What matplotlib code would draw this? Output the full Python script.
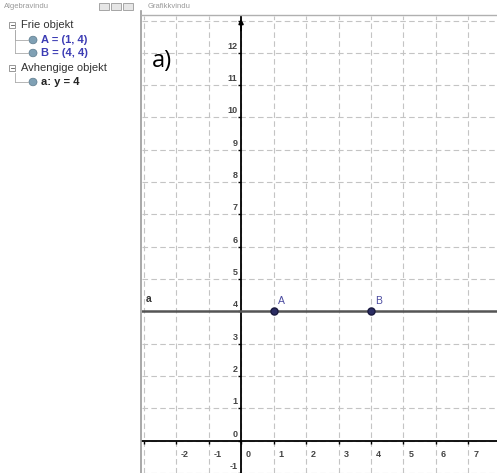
import numpy as np
import matplotlib
matplotlib.use('Agg')
import matplotlib.pyplot as plt
from matplotlib.lines import Line2D
from matplotlib.patches import Circle, Rectangle

W, H = 497, 473

# objects in the GeoGebra view
point_names = ['A', 'B']
point_x = [1, 4]
point_y = [4, 4]
line_name = 'a'
line_y = 4

x_ticks = [-2, -1, 0, 1, 2, 3, 4, 5, 6, 7]
y_ticks = [-1, 0, 1, 2, 3, 4, 5, 6, 7, 8, 9, 10, 11, 12]

# algebra view rows
free_header = 'Frie objekt'
free_items = ['A = (1, 4)', 'B = (4, 4)']
dep_header = 'Avhengige objekt'
dep_items = ['a: y = 4']

plt.rcParams['font.family'] = ['Liberation Sans', 'DejaVu Sans']

fig = plt.figure(figsize=(W / 100, H / 100), dpi=100)
fig.patch.set_facecolor('white')


def px(x, y):
    return x / W, 1 - y / H


# ---- graphics view ----
ax = fig.add_axes([142 / W, 0, (W - 142) / W, (H - 16) / H])
ax.set_xlim(-3.05, 7.88)
ax.set_ylim(-0.93, 13.14)
ax.set_facecolor('white')

for s in ['top', 'right']:
    ax.spines[s].set_visible(False)
ax.spines['left'].set_position(('data', 0))
ax.spines['bottom'].set_position(('data', 0))
ax.spines['left'].set_linewidth(1.3)
ax.spines['bottom'].set_linewidth(1.3)

ax.set_xticks(range(-3, 8))
ax.set_yticks(range(-1, 14))
ax.tick_params(direction='out', length=2.5, width=1, labelbottom=False, labelleft=False)
ax.grid(True, linestyle=(0, (5, 3)), color='#c4c4c4', lw=0.8)
ax.set_axisbelow(True)

ax.annotate('', xy=(0, 13.14), xytext=(0, 12.6),
            arrowprops=dict(arrowstyle='-|>', lw=1.2, color='k', mutation_scale=7))

for t in x_ticks:
    ax.annotate(str(t), xy=(t, 0), xytext=(3.5, -6.5), textcoords='offset points',
                fontsize=6.5, fontweight='bold', color='#444444', ha='left', va='top')
for t in y_ticks:
    ax.annotate(str(t), xy=(0, t), xytext=(-2.5, 1.5), textcoords='offset points',
                fontsize=6.5, fontweight='bold', color='#444444', ha='right', va='bottom')

ax.axhline(line_y, color='#555555', lw=1.8, zorder=3)
ax.annotate(line_name, xy=(-3.05, line_y), xytext=(3, 5), textcoords='offset points',
            fontsize=7.5, fontweight='bold', color='#333333', ha='left', va='bottom')

ax.scatter(point_x, point_y, s=26, color='#2b2d63', edgecolors='#1a1a40', zorder=5)
for n, x, y in zip(point_names, point_x, point_y):
    ax.annotate(n, xy=(x, y), xytext=(3, 4), textcoords='offset points',
                fontsize=7.5, color='#4b4ba0', ha='left', va='bottom')

ax.text(-2.75, 11.75, 'a)', fontsize=17, color='black', ha='left', va='center',
        family=['Open Sans', 'DejaVu Sans'])

# ---- frame / headers ----
fig.add_artist(Line2D([141 / W, 141 / W], [0, 1 - 11 / H], color='#9a9a9a', lw=1.2))
fig.add_artist(Line2D([141 / W, 1], [1 - 15 / H, 1 - 15 / H], color='#b0b0b0', lw=1))
fig.text(*px(148, 6), 'Grafikkvindu', fontsize=5.5, color='#999999', va='center', ha='left')
fig.text(*px(4, 6), 'Algebravindu', fontsize=5.5, color='#999999', va='center', ha='left')
for bx in [99, 111, 123]:
    fig.add_artist(Rectangle(px(bx, 10), 10 / W, 7 / H, facecolor='#e6e6e6',
                             edgecolor='#999999', lw=0.6))

# ---- algebra view ----
def tree_header(y, text):
    fig.add_artist(Rectangle(px(9, y + 3), 6 / W, 6 / H, facecolor='white',
                             edgecolor='#888888', lw=0.6))
    fig.add_artist(Line2D([10.5 / W, 13.5 / W], [1 - y / H, 1 - y / H], color='#555555', lw=0.6))
    fig.text(*px(21, y), text, fontsize=8, color='#333333', va='center', ha='left')


def tree_item(y, text, color, bold, top):
    fig.add_artist(Line2D([15 / W, 15 / W], [1 - top / H, 1 - y / H], color='#aaaaaa', lw=0.6))
    fig.add_artist(Line2D([15 / W, 28 / W], [1 - y / H, 1 - y / H], color='#aaaaaa', lw=0.6))
    fig.add_artist(Circle(px(33, y), 4 / W, facecolor='#7fa0b4', edgecolor='#5c7a8c', lw=0.5))
    fig.text(*px(41, y), text, fontsize=8, color=color, va='center', ha='left',
             fontweight='bold' if bold else 'normal')


rows = [25, 40, 53, 68, 82]
tree_header(rows[0], free_header)
for i, item in enumerate(free_items):
    tree_item(rows[1 + i], item, '#3c3cb4', True, rows[0] + 5)
tree_header(rows[3], dep_header)
for i, item in enumerate(dep_items):
    tree_item(rows[4 + i], item, '#222222', True, rows[3] + 5)

fig.savefig('out.png', dpi=100)
